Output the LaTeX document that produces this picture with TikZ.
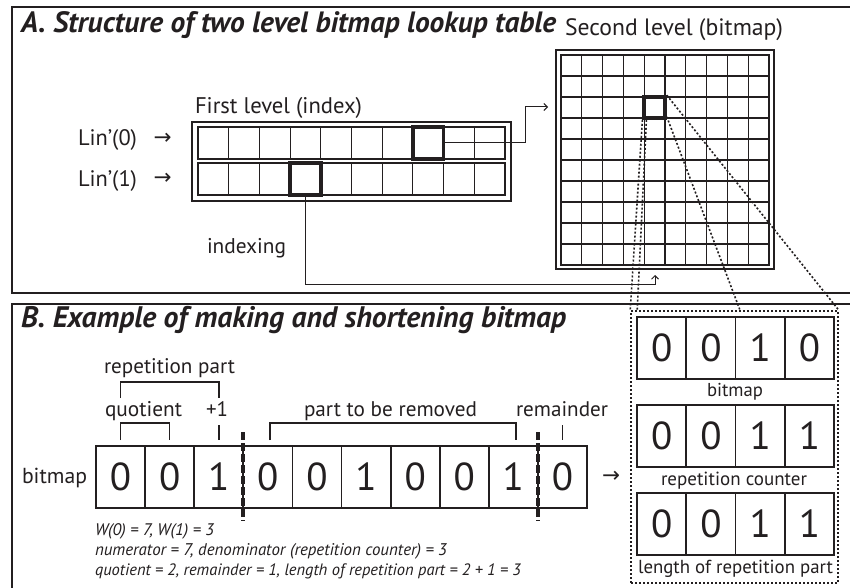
\documentclass[tikz,border=0pt]{standalone}
\usepackage{fontspec}
\setmainfont{PT Sans}
\newfontfamily\arrowfont{DejaVu Sans}
\usepackage{graphicx}
\usetikzlibrary{arrows.meta}
\definecolor{ink}{HTML}{231F20}
\newcommand\fitw[2]{\resizebox{#1pt}{!}{#2}}
\begin{document}
\begin{tikzpicture}[x=1pt,y=-1pt,
  every node/.style={text=ink},
  panel/.style={draw=ink,line width=2pt},
  lbl/.style={inner sep=0pt,outer sep=0pt,anchor=base west},
  hot/.style={draw=ink,line width=3.6pt,inner sep=0pt},
  cellnode/.style={draw=ink,line width=1.8pt,minimum width=49.1pt,minimum height=62pt,inner sep=0pt,font=\fontsize{39}{39}\selectfont},
  conn/.style={draw=ink,line width=1pt},
  tip/.style={-{Straight Barb[length=3.5pt,width=7pt]}},
  dotl/.style={draw=ink,line width=1.6pt,dash pattern=on 2pt off 2pt},
  sepline/.style={draw=ink,line width=3.6pt,dash pattern=on 8pt off 3pt},
  brk/.style={draw=ink,line width=1.4pt}]
\clip (0,0) rectangle (850,588);
\fill[white] (0,0) rectangle (850,588);

% ---------- Panel A ----------
\draw[panel] (12,7) rectangle (880,293);
\node[lbl] (tA) at (21,33) {\fitw{535}{\bfseries\itshape A. Structure of two level bitmap lookup table}};
\node[lbl] (t2) at (565,36) {\fitw{218}{Second level (bitmap)}};
\node[lbl] (t1) at (195,114) {\fitw{167}{First level (index)}};
\node[lbl] (lin0) at (78,146) {\fitw{59}{Lin’(0)}};
\node[lbl] (lin1) at (78,186) {\fitw{59}{Lin’(1)}};
\node (ar0) at (162.5,139) {\fitw{18}{\arrowfont →}};
\node (ar1) at (162.5,179) {\fitw{18}{\arrowfont →}};
\node[lbl] (idx) at (207,253) {\fitw{79}{indexing}};

% first level
\node[draw=ink,line width=2pt,minimum width=319pt,minimum height=79pt,inner sep=0pt] (L1) at (351.5,161.5) {};
\foreach \y in {127,163} {
  \draw[ink,line width=1.3pt] (198,\y) rectangle (505,\y+32);
  \foreach \i in {1,...,9} \draw[ink,line width=1pt] ({198+\i*30.7},\y) -- ({198+\i*30.7},\y+32);
}
\node[hot,minimum width=30.7pt,minimum height=32pt] (f1) at (428.3,143) {};
\node[hot,minimum width=30.7pt,minimum height=32pt] (f2) at (305.5,179) {};

% second level
\node[draw=ink,line width=2pt,minimum width=218pt,minimum height=219pt,inner sep=0pt] (S2) at (665,159.5) {};
\draw[ink,line width=1.3pt] (561,55) rectangle (769,265);
\foreach \i in {1,...,9} {
  \draw[ink,line width=1.1pt] ({561+\i*20.8},55) -- ({561+\i*20.8},265);
  \draw[ink,line width=1.1pt] (561,{55+\i*21}) -- (769,{55+\i*21});
}
\node[hot,minimum width=20.8pt,minimum height=21pt] (sc) at (654.6,107.5) {};

% connectors
\coordinate (k1) at (525,107);
\coordinate (e1) at (548,107);
\draw[conn,tip] (f1.east) -| (k1) -- (e1);
\coordinate (k2) at (655,284);
\coordinate (e2) at (655,275);
\draw[conn,tip] (f2.south) |- (k2) -- (e2);

% ---------- Panel B ----------
\draw[panel] (12,304) rectangle (880,620);
\node[lbl] (tB) at (21,327) {\fitw{545}{\bfseries\itshape B. Example of making and shortening bitmap}};

\foreach \d [count=\i from 0] in {0,0,1,0,0,1,0,0,1,0}
  \node[cellnode] (b\i) at ({96+(\i+0.5)*49.1},477) {\d};
\draw[sepline] (243,432) -- (243,521);
\draw[sepline] (538,432) -- (538,521);

\draw[brk] (120.5,398) -- (120.5,382) -- (218.8,382) -- (218.8,398);
\draw[brk] (120.5,440) -- (120.5,423) -- (169.6,423) -- (169.6,440);
\draw[brk] (218.8,425) -- (218.8,440);
\draw[brk] (270,440) -- (270,423) -- (516,423) -- (516,440);
\draw[brk] (562.5,425) -- (562.5,440);

\node[lbl] (rp) at (104,373) {\fitw{131}{repetition part}};
\node[lbl] (qu) at (105,416) {\fitw{77}{quotient}};
\node[lbl] (p1) at (206,416) {\fitw{22}{+1}};
\node[lbl] (ptr) at (304,416) {\fitw{173}{part to be removed}};
\node[lbl] (rem) at (516,416) {\fitw{92}{remainder}};
\node[lbl] (bm) at (22,483) {\fitw{65}{bitmap}};
\node (arr) at (611,477) {\fitw{18}{\arrowfont →}};

\node[lbl] (w) at (95,535) {\fitw{119}{\itshape W(0) = 7, W(1) = 3}};
\node[lbl] (nu) at (95,555) {\fitw{352}{\itshape numerator = 7, denominator (repetition counter) = 3}};
\node[lbl] (qq) at (95,575) {\fitw{426}{\itshape quotient = 2, remainder = 1, length of repetition part = 2 + 1 = 3}};

% right: dotted box with three rows
\node[dotl,minimum width=207pt,minimum height=272pt,inner sep=0pt] (DB) at (734.5,447) {};
\foreach \row/\yc/\digits in {0/348/{0,0,1,0},1/436/{0,0,1,1},2/524/{0,0,1,1}} {
  \foreach \d [count=\i from 0] in \digits
    \node[cellnode,minimum width=49.25pt] (r\row c\i) at ({637+(\i+0.5)*49.25},\yc) {\d};
}
\node[lbl] (l1) at (707,396) {\fitw{56}{bitmap}};
\node[lbl] (l2) at (661,485) {\fitw{146}{repetition counter}};
\node[lbl] (l3) at (638,573) {\fitw{195}{length of repetition part}};

% dotted zoom lines
\draw[dotl] (sc.south west) -- (DB.north west);
\draw[dotl] ([xshift=4pt]sc.south west) -- ([xshift=7pt]DB.north west);
\draw[dotl] ([yshift=3pt]sc.south east) -- ([xshift=5.5pt]DB.north);
\draw[dotl] (sc.north east) -- (DB.north east);
\end{tikzpicture}
\end{document}
